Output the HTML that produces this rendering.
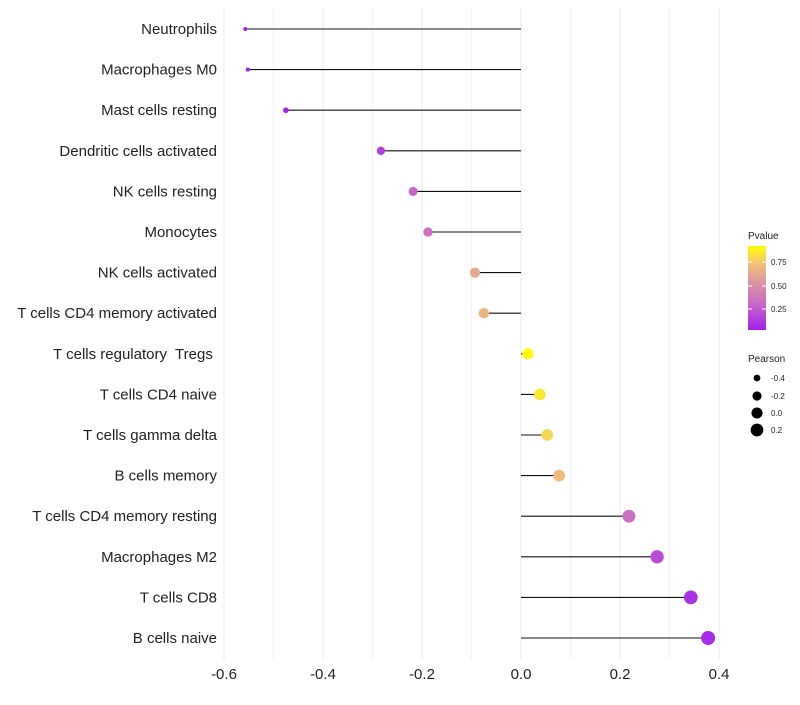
<!DOCTYPE html>
<html><head><meta charset="utf-8"><style>
body{margin:0;background:#fff;font-family:"Liberation Sans",sans-serif}
</style></head><body>
<svg id="c" width="800" height="700" xmlns="http://www.w3.org/2000/svg">
<defs><linearGradient id="g" x1="0" y1="1" x2="0" y2="0">
<stop offset="0" stop-color="#a020f0"/><stop offset="0.3" stop-color="#c866c8"/><stop offset="0.55" stop-color="#dd92a4"/><stop offset="0.8" stop-color="#f2c472"/><stop offset="1" stop-color="#ffff00"/></linearGradient></defs>
</svg>
<script>
const categories=["Neutrophils","Macrophages M0","Mast cells resting","Dendritic cells activated","NK cells resting","Monocytes","NK cells activated","T cells CD4 memory activated","T cells regulatory  Tregs ","T cells CD4 naive","T cells gamma delta","B cells memory","T cells CD4 memory resting","Macrophages M2","T cells CD8","B cells naive"];
const pearson=[-0.557,-0.552,-0.475,-0.283,-0.218,-0.188,-0.093,-0.075,0.014,0.038,0.053,0.077,0.218,0.275,0.343,0.378];
const pvalue=[0.02,0.02,0.04,0.15,0.3,0.35,0.65,0.7,0.95,0.88,0.82,0.72,0.35,0.2,0.1,0.08];
const xTicks=[-0.6,-0.4,-0.2,0.0,0.2,0.4];
const NS="http://www.w3.org/2000/svg";
const svg=document.getElementById('c');
const X=v=>521+v*495;
const Y=i=>29+i*40.6;
const R=v=>Math.sqrt(Math.max(1,4+48.1*(v+0.557)));
const stops=[[0,[160,32,240]],[0.3,[200,102,200]],[0.55,[221,146,164]],[0.8,[242,196,114]],[1,[255,255,0]]];
function col(p){p=Math.max(0,Math.min(1,(p-0.03)/0.92));for(let i=1;i<stops.length;i++){if(p<=stops[i][0]){const a=stops[i-1],b=stops[i],t=(p-a[0])/(b[0]-a[0]);return 'rgb('+a[1].map((c,k)=>Math.round(c+(b[1][k]-c)*t)).join(',')+')';}}return 'rgb(255,255,0)';}
function mk(t,a,p){const e=document.createElementNS(NS,t);for(const k in a)e.setAttribute(k,a[k]);(p||svg).appendChild(e);return e;}
for(let v=-0.6;v<=0.41;v+=0.1){const g=mk('line',{x1:X(v),x2:X(v),y1:8,y2:660,stroke:'#ebebeb','stroke-width':Math.abs(Math.round(v*10))%2==0?1:0.6});

}
xTicks.forEach(v=>{const t=mk('text',{x:X(v),y:679,'text-anchor':'middle','font-size':15,fill:'#222'});t.textContent=v.toFixed(1);

});
categories.forEach((c,i)=>{const y=Y(i);
const t=mk('text',{x:217,y:y+5,'text-anchor':'end','font-size':15,fill:'#222',style:'white-space:pre'});t.textContent=c;


const l=mk('line',{x1:X(0),x2:X(pearson[i]),y1:y,y2:y,stroke:'#111','stroke-width':1.1});


const d=mk('circle',{cx:X(pearson[i]),cy:y,r:R(pearson[i]),fill:col(pvalue[i])});

});
const lt=mk('text',{x:748,y:239,'font-size':10,fill:'#222'});lt.textContent='Pvalue';


const bar=mk('rect',{x:748,y:246,width:18,height:84,fill:'url(#g)'});


[["0.75",262],["0.50",286],["0.25",309]].forEach(([s,y])=>{mk('line',{x1:748,x2:752,y1:y,y2:y,stroke:'#fff'});mk('line',{x1:762,x2:766,y1:y,y2:y,stroke:'#fff'});
const t=mk('text',{x:771,y:y+3,'font-size':8,fill:'#222'});t.textContent=s;

});
const pt=mk('text',{x:748,y:362,'font-size':10,fill:'#222'});pt.textContent='Pearson';


[["-0.4",-0.4,378],["-0.2",-0.2,396],["0.0",0,413],["0.2",0.2,430]].forEach(([s,v,y])=>{const c=mk('circle',{cx:757,cy:y,r:R(v),fill:'#000'});


const t=mk('text',{x:771,y:y+3,'font-size':8,fill:'#222'});t.textContent=s;

});
</script>
</body></html>
